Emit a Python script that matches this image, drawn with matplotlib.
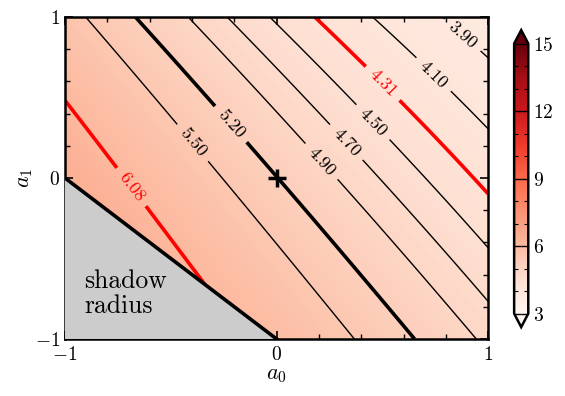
import numpy as np
import matplotlib
matplotlib.use('Agg')
import matplotlib.pyplot as plt
from matplotlib.ticker import MultipleLocator

plt.rcParams['font.family'] = 'serif'
plt.rcParams['font.serif'] = ['cmr10']
plt.rcParams['mathtext.fontset'] = 'cm'
plt.rcParams['axes.formatter.use_mathtext'] = True
plt.rcParams['axes.unicode_minus'] = True

# shadow radius on a coarse grid
a0_grid = [-1.0, -0.5, 0.0, 0.5, 1.0]
a1_grid = [-1.0, -0.5, 0.0, 0.5, 1.0]
r_row_m10 = [7.10, 6.50, 5.93, 5.35, 4.84]   # a1 = -1
r_row_m05 = [6.80, 6.18, 5.555, 5.01, 4.55]  # a1 = -0.5
r_row_00 = [6.48, 5.80, 5.20, 4.675, 4.26]   # a1 = 0
r_row_p05 = [6.07, 5.39, 4.82, 4.37, 4.02]   # a1 = 0.5
r_row_p10 = [5.63, 4.99, 4.48, 4.09, 3.78]   # a1 = 1

black_levels = [3.90, 4.10, 4.50, 4.70, 4.90, 5.50]
schw_level = [5.196]
red_levels = [4.31, 6.08]

# label spots (data coords)
black_label_pos = [(0.88, 0.89), (0.74, 0.64), (0.45, 0.34), (0.32, 0.21), (0.21, 0.10), (-0.395, 0.22)]
schw_label_pos = [(-0.22, 0.33)]
red_label_pos = [(0.45, 0.52), (-0.67, -0.04)]

grid = np.array([r_row_m10, r_row_m05, r_row_00, r_row_p05, r_row_p10])

# smooth surface through the grid (cubic least squares)
G0, G1 = np.meshgrid(a0_grid, a1_grid)
def terms(u, v):
    return np.stack([np.ones_like(u), u, v, u*u, u*v, v*v,
                     u**3, u*u*v, u*v*v, v**3], axis=-1)
coef, *_ = np.linalg.lstsq(terms(G0.ravel(), G1.ravel()), grid.ravel(), rcond=None)

x = np.linspace(-1, 1, 401)
y = np.linspace(-1, 1, 401)
X, Y = np.meshgrid(x, y)
fine = terms(X, Y) @ coef
masked = np.ma.masked_where(Y < -1 - X - 0.005, fine)

fig = plt.figure(figsize=(5.65, 3.96), dpi=100)
ax = fig.add_axes([0.115, 0.144, 0.749, 0.813])
cax = fig.add_axes([0.910, 0.174, 0.025, 0.750])

im = ax.imshow(fine, extent=[-1, 1, -1, 1], origin='lower', aspect='auto',
               cmap='Reds', vmin=3, vmax=15, interpolation='bilinear')

cs1 = ax.contour(X, Y, masked, levels=black_levels, colors='k', linewidths=1.0)
cs2 = ax.contour(X, Y, masked, levels=schw_level, colors='k', linewidths=2.6)
cs3 = ax.contour(X, Y, masked, levels=red_levels, colors='red', linewidths=2.6)
ax.clabel(cs1, fmt='%.2f', fontsize=13, manual=black_label_pos, inline=True, inline_spacing=8)
ax.clabel(cs2, fmt='%.2f', fontsize=13, manual=schw_label_pos, inline=True, inline_spacing=8)
ax.clabel(cs3, fmt='%.2f', fontsize=13, manual=red_label_pos, inline=True, inline_spacing=8)

# shadow region
ax.fill([-1, 0, -1], [0, -1, -1], color='#cccccc', zorder=3)
ax.plot([-1, 0], [0, -1], color='k', lw=2.6, zorder=4)
ax.text(-0.91, -0.72, 'shadow\nradius', fontsize=18.5, ha='left', va='center',
        linespacing=1.05, zorder=5)

ax.plot([0], [0], marker='+', color='k', ms=13, mew=2.5, zorder=6)

ax.set_xlim(-1, 1)
ax.set_ylim(-1, 1)
ax.set_xticks([-1, 0, 1])
ax.set_yticks([-1, 0, 1])
ax.xaxis.set_minor_locator(MultipleLocator(0.2))
ax.yaxis.set_minor_locator(MultipleLocator(0.2))
ax.tick_params(which='both', direction='in', top=True, right=True, labelsize=14)
ax.tick_params(which='major', length=6, width=1.2)
ax.tick_params(which='minor', length=3.5, width=1.0)
ax.tick_params(axis='x', pad=5)
ax.set_xlabel('$a_0$', fontsize=16, labelpad=1)
ax.set_ylabel('$a_1$', fontsize=16, labelpad=0)
for s in ax.spines.values():
    s.set_linewidth(1.8)

cb = fig.colorbar(im, cax=cax, extend='both', ticks=[3, 6, 9, 12, 15])
cax.yaxis.set_minor_locator(MultipleLocator(1))
cax.tick_params(which='both', direction='in', left=True, right=True, labelsize=14)
cax.tick_params(which='major', length=5, width=1.0)
cax.tick_params(which='minor', length=3, width=0.8)
cb.outline.set_linewidth(1.8)

fig.savefig('out.png', dpi=100)
